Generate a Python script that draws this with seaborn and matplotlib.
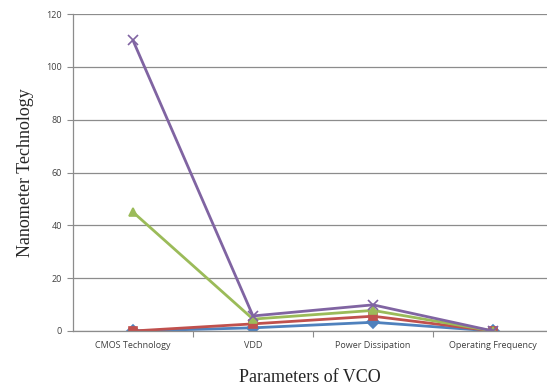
import numpy as np
import pandas as pd
import matplotlib
matplotlib.use('Agg')
import matplotlib.pyplot as plt
import seaborn as sns

# chart data
categories = ['CMOS Technology', 'VDD', 'Power Dissipation', 'Operating Frequency']
series_names = ['Series1', 'Series2', 'Series3', 'Series4']
series1 = [0, 1.2, 3.3, 0]
series2 = [0, 2.7, 5.6, 0]
series3 = [45, 4.5, 7.8, 0]
series4 = [110, 5.7, 9.9, 0]
y_ticks = [0, 20, 40, 60, 80, 100, 120]

colors = ['#4F81BD', '#C0504D', '#9BBB59', '#8064A2']
markers = ['D', 's', '^', 'x']

rows = []
for name, vals in zip(series_names, [series1, series2, series3, series4]):
    for i, v in enumerate(vals):
        rows.append({'pos': i, 'value': v, 'series': name})
df = pd.DataFrame(rows)

sns.set_style('white')

fig = plt.figure(figsize=(5.47, 3.90), dpi=100)
ax = fig.add_axes([73 / 547, 1 - 331 / 390, (547 - 73) / 547, (331 - 14) / 390])

for (name, sub), c, m in zip(df.groupby('series', sort=False), colors, markers):
    sns.lineplot(data=sub, x='pos', y='value', color=c, marker=m, lw=2,
                 markersize=6 if m != 'x' else 7, markeredgecolor=c,
                 markeredgewidth=1.2, ax=ax, legend=False)

ax.set_xlim(-0.5, 3.45)
ax.set_ylim(0, 120)
ax.set_yticks(y_ticks)
ax.set_yticklabels([str(t) for t in y_ticks], fontsize=6.5, color='#404040',
                   family='Open Sans')
ax.set_xticks(range(len(categories)))
ax.set_xticklabels(categories, fontsize=6.5, color='#404040', family='Open Sans')
ax.tick_params(axis='x', length=0, pad=7)
ax.tick_params(axis='y', length=4, width=0.8, color='#8c8c8c', pad=4, left=True)
# category boundary ticks
ax.set_xticks([0.5, 1.5, 2.5], minor=True)
ax.tick_params(axis='x', which='minor', length=4, width=0.8, color='#8c8c8c', bottom=True)

ax.yaxis.grid(True, color='#8c8c8c', lw=0.9)
ax.set_axisbelow(True)
for s in ['top', 'right']:
    ax.spines[s].set_visible(False)
for s in ['left', 'bottom']:
    ax.spines[s].set_color('#8c8c8c')
    ax.spines[s].set_linewidth(0.9)

ax.set_xlabel('Parameters of VCO', fontsize=13, family='Liberation Serif', labelpad=14)
ax.set_ylabel('Nanometer Technology', fontsize=13, family='Liberation Serif', labelpad=9)

fig.savefig('out.png', dpi=100)
